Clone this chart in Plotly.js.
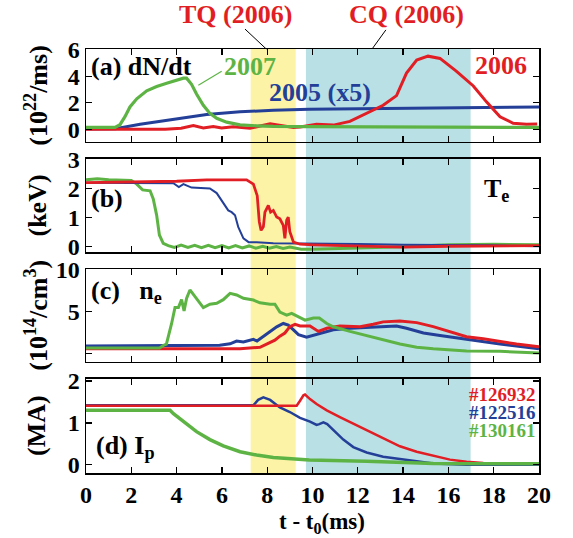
<!DOCTYPE html>
<html><head><meta charset="utf-8">
<script src="https://cdn.plot.ly/plotly-3.0.1.min.js"></script>
<style>body{margin:0;background:#fff}#c{width:573px;height:538px}</style>
</head><body><div id="c"></div>
<script>
// ---- data ----
// panel (a) dN/dt
const tA_green=[0,1.28,1.5,1.72,1.94,2.24,2.68,3.12,3.56,4.0,4.3,4.44,4.66,4.88,5.18,5.47,5.77,6.21,6.8,7.53,8.27,9.74,12,15,20];
const vA_green=[0.15,0.15,0.35,0.96,1.69,2.3,2.9,3.22,3.47,3.7,3.85,3.85,3.39,2.66,1.81,1.2,0.83,0.54,0.34,0.27,0.22,0.2,0.18,0.16,0.15];
const tA_blue=[0,1.3,2.39,3.86,5.33,6.8,8.27,9.86,12.39,15.33,20];
const vA_blue=[0.02,0.05,0.39,0.78,1.12,1.32,1.44,1.51,1.56,1.63,1.68];
const tA_red=[0,3.5,4.2,4.74,5.18,5.62,5.99,6.5,7.24,8.13,9.16,9.45,10.18,10.92,11.65,12.39,13.12,13.71,14.15,14.6,15.1,15.63,16.36,17.1,17.69,18.28,18.86,19.45,19.92];
const vA_red=[0,0,0.08,0.28,0.1,0.22,0.1,0.2,0.08,0.42,0.14,0.18,0.38,0.32,0.6,1.2,1.81,2.54,4.24,5.22,5.51,5.34,4.37,3.27,2.05,0.95,0.46,0.39,0.41];
// panel (b) Te
const tB_red=[0,2,4,5.33,7.09,7.39,7.56,7.65,7.73,7.83,7.9,8.05,8.15,8.27,8.42,8.56,8.71,8.78,8.86,8.93,9.0,9.16,9.45,10,12,14,16,18,20];
const vB_red=[2.2,2.22,2.25,2.3,2.3,2.15,1.75,0.85,0.55,0.67,1.18,1.41,1.18,1.24,1.01,0.95,0.72,0.27,0.9,1.01,0.5,0.14,0.07,0.05,0.0,-0.03,0.0,0.0,0.02];
const tB_blue=[0,2,3.86,4.1,4.3,4.66,5.47,5.77,6.06,6.28,6.43,6.58,6.72,6.95,7.18,7.54,8.27,10,12,14,16,18,20];
const vB_blue=[2.2,2.18,2.18,2.05,2.15,2.03,2.0,1.84,1.5,1.24,1.18,1.07,0.67,0.27,0.14,0.14,0.1,0.1,0.08,0.05,0.05,0.03,0.0];
const tB_green=[0,0.5,1.0,2.0,2.24,2.5,2.83,2.97,3.12,3.24,3.41,3.63,3.9,4.2,4.5,4.8,5.1,5.4,5.7,6.0,6.3,6.6,6.9,7.2,7.5,7.8,8.1,8.4,8.7,9.0,9.5,10,12,14,16,18,20];
const vB_green=[2.3,2.34,2.3,2.28,2.15,1.95,1.92,1.64,1.07,0.39,0.1,0.02,-0.04,0.04,-0.04,0.03,-0.05,0.03,-0.05,0.02,-0.06,0.02,-0.06,0.01,-0.07,0.0,-0.07,-0.01,-0.08,-0.03,-0.1,-0.1,-0.06,-0.02,0.05,0.07,0.05];
// panel (c) ne
const tC_green=[0,3.25,3.41,3.55,3.78,3.93,4.08,4.22,4.33,4.44,4.59,4.71,4.88,5.18,5.47,5.77,6.06,6.36,6.65,6.95,7.39,7.68,8.13,8.34,8.56,8.86,9.08,9.38,9.67,10.04,10.3,10.63,10.92,11.65,12.39,13.12,13.86,14.6,15.33,16.8,18.28,20];
const vC_green=[0.68,0.68,0.97,1.14,3.6,5.5,5.5,6.44,5.1,6.6,7.6,7.2,6.6,5.5,5.9,6.0,6.44,7.2,7.0,6.6,6.4,6.06,5.9,5.9,4.96,4.6,4.8,4.4,4.0,4.25,4.25,3.6,3.2,2.65,2.16,1.7,1.14,0.76,0.57,0.3,0.27,0.08];
const tC_blue=[0,5.5,5.9,6.36,6.65,6.95,7.1,7.39,7.55,7.83,8.13,8.42,8.71,8.93,9.16,9.38,9.74,10.18,10.92,11.65,12.39,13.12,13.71,14.15,14.9,15.63,16.8,18.28,20];
const vC_blue=[0.91,0.91,1.0,1.17,1.5,1.4,1.5,1.7,1.5,2.08,2.65,3.2,3.6,3.4,2.84,2.27,1.97,2.27,2.84,3.03,3.1,3.22,3.3,3.03,2.46,2.16,1.7,1.14,0.57];
const tC_red=[0,6.8,7.68,8.13,8.34,8.56,8.78,9.0,9.23,9.45,9.89,10.26,10.63,11.21,12.1,12.68,13.12,13.86,14.6,15.33,16.07,16.8,17.54,18.28,19.01,20];
const vC_red=[0.57,0.57,0.76,1.33,1.6,2.08,2.46,3.22,3.5,3.3,3.3,2.65,3.03,3.3,3.22,3.5,3.79,3.9,3.7,3.22,2.58,2.01,1.78,1.44,1.14,0.83];
// panel (d) Ip
const tD_blue=[0,4,7.39,7.6,7.83,8.13,8.56,9.0,9.45,9.89,10.18,10.3,10.48,10.65,10.92,11.36,11.8,12.39,13.12,13.86,14.6,15.33,16.8,20];
const vD_blue=[1.42,1.42,1.42,1.55,1.61,1.55,1.37,1.26,1.12,1.03,0.95,0.97,1.01,0.97,0.83,0.6,0.42,0.29,0.19,0.13,0.08,0.03,0.0,0.0];
const tD_red=[0,5,9.3,9.45,9.6,9.67,9.89,10.18,10.63,11.21,11.95,12.39,13.12,13.86,14.6,15.33,16.07,16.8,17.54,20];
const vD_red=[1.41,1.41,1.41,1.53,1.66,1.68,1.57,1.45,1.3,1.14,0.95,0.83,0.64,0.44,0.31,0.21,0.12,0.07,0.04,0.02];
const tD_green=[0,3.71,3.86,4.3,4.88,5.47,6.06,6.8,7.53,8.27,9.86,12.39,15.33,20];
const vD_green=[1.3,1.3,1.22,1.03,0.79,0.6,0.45,0.31,0.23,0.17,0.11,0.08,0.03,0.02];
// labels
const tickX=[0,2,4,6,8,10,12,14,16,18,20];
const shotLabels=['#126932','#122516','#130161'];
const TQ=[7.27,9.26], CQ=[9.71,16.98];

const RED='#e11e24', BLUE='#233f98', GREEN='#5db445';
const FF='Liberation Serif, Times New Roman, serif';
function tr(x,y,c,w,xa,ya){return {x:x,y:y,mode:'lines',line:{color:c,width:w},xaxis:xa,yaxis:ya,hoverinfo:'skip'};}
const data=[
 tr(tA_blue,vA_blue,BLUE,3,'x','y'),tr(tA_red,vA_red,RED,3,'x','y'),tr(tA_green,vA_green,GREEN,3.2,'x','y'),
 tr(tB_green,vB_green,GREEN,3,'x2','y2'),tr(tB_blue,vB_blue,BLUE,2,'x2','y2'),tr(tB_red,vB_red,RED,2.8,'x2','y2'),
 tr(tC_blue,vC_blue,BLUE,3,'x3','y3'),tr(tC_red,vC_red,RED,3,'x3','y3'),tr(tC_green,vC_green,GREEN,3,'x3','y3'),
 tr(tD_blue,vD_blue,BLUE,2.5,'x4','y4'),tr(tD_red,vD_red,RED,2.5,'x4','y4'),tr(tD_green,vD_green,GREEN,3.5,'x4','y4')
];
const ax={showline:true,linecolor:'#000',linewidth:1.5,mirror:'ticks',ticks:'inside',ticklen:6,tickwidth:1.3,tickcolor:'#000',showgrid:false,zeroline:false,tickfont:{family:FF,size:24,color:'#000',weight:'bold'}};
function xa(anchor,show){return Object.assign({},ax,{anchor:anchor,range:[0,20],tickvals:tickX,showticklabels:show,domain:[0,1]});}
const doms=[[0.7807,1],[0.5212,0.7406],[0.2618,0.4811],[0,0.2217]];
const layout={
 width:573,height:538,margin:{l:86,r:34,t:49,b:65},
 paper_bgcolor:'#fff',plot_bgcolor:'rgba(0,0,0,0)',showlegend:false,
 font:{family:FF,color:'#000',weight:'bold'},
 xaxis:xa('y',false),xaxis2:Object.assign(xa('y2',false),{matches:'x'}),
 xaxis3:Object.assign(xa('y3',false),{matches:'x'}),xaxis4:Object.assign(xa('y4',true),{matches:'x'}),
 yaxis:Object.assign({},ax,{anchor:'x',domain:doms[0],range:[-0.95,6.05],tickvals:[0,2,4,6]}),
 yaxis2:Object.assign({},ax,{anchor:'x2',domain:doms[1],range:[-0.2,3.02],tickvals:[0,1,2,3]}),
 yaxis3:Object.assign({},ax,{anchor:'x3',domain:doms[2],range:[-1.0,10.1],tickvals:[0,5,10],ticktext:['','5','10']}),
 yaxis4:Object.assign({},ax,{anchor:'x4',domain:doms[3],range:[-0.2,2.05],tickvals:[0,1,2]}),
 shapes:[
  {type:'rect',xref:'x',yref:'paper',x0:TQ[0],x1:TQ[1],y0:0,y1:1,fillcolor:'#fcf3a6',line:{width:0},layer:'below'},
  {type:'rect',xref:'x',yref:'paper',x0:CQ[0],x1:CQ[1],y0:0,y1:1,fillcolor:'#b9e0e5',line:{width:0},layer:'below'},
  {type:'line',xref:'x',yref:'paper',x0:7.02,y0:1.047,x1:7.96,y1:1.0,line:{color:'#000',width:1}},
  {type:'line',xref:'x',yref:'paper',x0:13.24,y0:1.045,x1:12.63,y1:1.0,line:{color:'#000',width:1}},
  {type:'line',xref:'x',yref:'y',x0:5.99,y0:4.37,x1:4.96,y1:3.32,line:{color:GREEN,width:1.2}}
 ],
 annotations:[
  {text:'TQ (2006)',xref:'paper',yref:'paper',x:0.329,y:1.0825,xanchor:'center',yanchor:'middle',showarrow:false,font:{size:26,color:RED}},
  {text:'CQ (2006)',xref:'paper',yref:'paper',x:0.7086,y:1.0825,xanchor:'center',yanchor:'middle',showarrow:false,font:{size:26,color:RED}},
  {text:'(a) dN/dt',xref:'x',yref:'y',x:0.15,y:4.7,xanchor:'left',showarrow:false,font:{size:26}},
  {text:'2007',xref:'x',yref:'y',x:6.0,y:4.7,xanchor:'left',showarrow:false,font:{size:26,color:GREEN}},
  {text:'2005 (x5)',xref:'x',yref:'y',x:8.0,y:2.75,xanchor:'left',showarrow:false,font:{size:26,color:BLUE}},
  {text:'2006',xref:'x',yref:'y',x:17.1,y:4.8,xanchor:'left',showarrow:false,font:{size:26,color:RED}},
  {text:'(b)',xref:'x2',yref:'y2',x:0.15,y:1.64,xanchor:'left',showarrow:false,font:{size:26}},
  {text:'T<sub>e</sub>',xref:'x2',yref:'y2',x:17.5,y:1.95,xanchor:'left',showarrow:false,font:{size:26}},
  {text:'(c)\u00a0\u00a0\u00a0n<sub>e</sub>',xref:'x3',yref:'y3',x:0.15,y:7.3,xanchor:'left',showarrow:false,font:{size:26}},
  {text:'(d) I<sub>p</sub>',xref:'x4',yref:'y4',x:0.35,y:0.42,xanchor:'left',showarrow:false,font:{size:26}},
  {text:shotLabels[0],xref:'x4',yref:'y4',x:19.95,y:1.68,xanchor:'right',showarrow:false,font:{size:19,color:RED}},
  {text:shotLabels[1],xref:'x4',yref:'y4',x:19.95,y:1.25,xanchor:'right',showarrow:false,font:{size:19,color:BLUE}},
  {text:shotLabels[2],xref:'x4',yref:'y4',x:19.95,y:0.82,xanchor:'right',showarrow:false,font:{size:19,color:GREEN}},
  {text:'(10<sup>22</sup>/ms)',xref:'paper',yref:'paper',x:-0.108,y:0.89,xanchor:'center',yanchor:'middle',textangle:-90,showarrow:false,font:{size:26}},
  {text:'(keV)',xref:'paper',yref:'paper',x:-0.108,y:0.631,xanchor:'center',yanchor:'middle',textangle:-90,showarrow:false,font:{size:26}},
  {text:'(10<sup>14</sup>/cm<sup>3</sup>)',xref:'paper',yref:'paper',x:-0.108,y:0.371,xanchor:'center',yanchor:'middle',textangle:-90,showarrow:false,font:{size:26}},
  {text:'(MA)',xref:'paper',yref:'paper',x:-0.108,y:0.111,xanchor:'center',yanchor:'middle',textangle:-90,showarrow:false,font:{size:26}},
  {text:'t - t<sub>0</sub>(ms)',xref:'paper',yref:'paper',x:0.52,y:-0.119,xanchor:'center',yanchor:'middle',showarrow:false,font:{size:23}}
 ]
};
Plotly.newPlot('c',data,layout,{staticPlot:true});
</script></body></html>
